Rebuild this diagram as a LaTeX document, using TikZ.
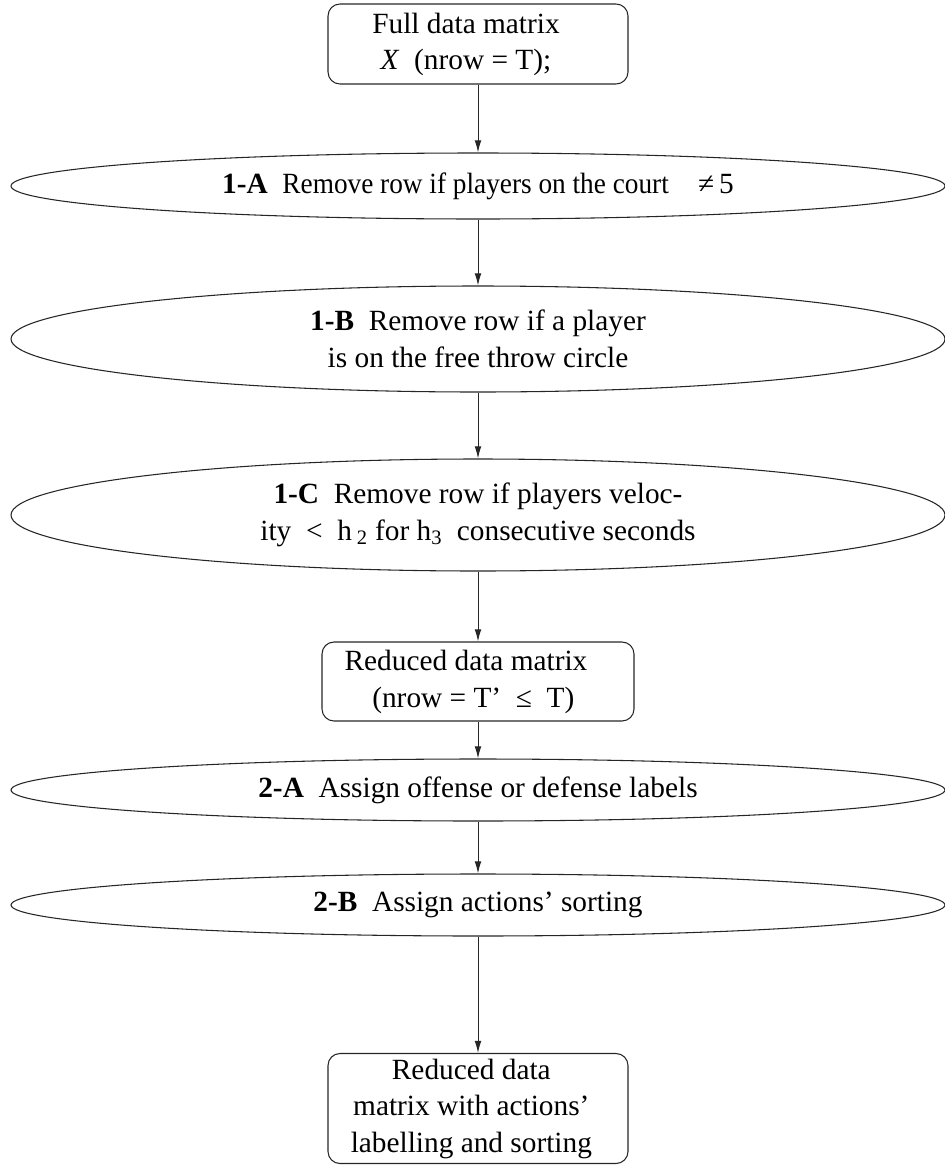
\documentclass[tikz,border=0pt]{standalone}
\usepackage{fontspec}
\setmainfont{Liberation Serif}
\usetikzlibrary{shapes.geometric,arrows.meta}
\tikzset{
  base/.style={draw=black!85, line width=0.8pt, inner sep=0pt,
    font=\fontsize{22}{27.5}\selectfont},
  procbox/.style={base, rectangle, rounded corners=9pt},
  filterell/.style={base, ellipse, minimum width=934*0.75pt, align=center},
  flow/.style={-{Latex[length=9pt,width=5pt]}, line width=0.75pt, draw=black!85},
}
\begin{document}
\begin{tikzpicture}[x=0.75pt,y=-0.75pt]
\useasboundingbox (0,0) rectangle (945,1167);

% input matrix
\node[procbox, minimum width=300*0.75pt, minimum height=80*0.75pt] (full) at (478,44)
  {\begin{tabular}{@{}c@{\hspace{18pt}}}Full data matrix\\ \textit{X}\ \ (nrow = T);\end{tabular}};

% step 1 filters
\node[filterell, minimum height=66*0.75pt] (f1a) at (478,186)
  {\textbf{1-A}\hspace{11pt}\scalebox{0.93}[1]{Remove row if players on the court}\hspace{22pt}≠\,5};
\node[filterell, minimum height=106*0.75pt] (f1b) at (478,339)
  {\textbf{1-B}\ \ Remove row if a player\\is on the free throw circle};
\node[filterell, minimum height=112*0.75pt] (f1c) at (478,515)
  {\textbf{1-C}\ \ Remove row if players veloc-\\ity\ \ <\ \ h\,\textsubscript{2}\ for h\textsubscript{3}\ \ consecutive seconds};

% reduced matrix
\node[procbox, minimum width=312*0.75pt, minimum height=79*0.75pt] (red) at (478,681.5)
  {\begin{tabular}{@{}c@{\hspace{18pt}}}Reduced data matrix\\ \ \ (nrow = T’\ \ ≤\ \ T)\end{tabular}};

% step 2 labelling
\node[filterell, minimum height=62*0.75pt] (f2a) at (478,790)
  {\textbf{2-A}\ \ Assign offense or defense labels};
\node[filterell, minimum height=62*0.75pt] (f2b) at (478,905)
  {\textbf{2-B}\ \ Assign actions’ sorting};

% output matrix
\node[procbox, minimum width=300*0.75pt, minimum height=107*0.75pt] (out) at (478,1108.5)
  {\begin{tabular}{@{}c@{\hspace{10pt}}}Reduced data\\matrix with actions’\\labelling and sorting\end{tabular}};

\draw[flow] (full.south) -- (f1a.north);
\draw[flow] (f1a.south) -- (f1b.north);
\draw[flow] (f1b.south) -- (f1c.north);
\draw[flow] (f1c.south) -- (red.north);
\draw[flow] (red.south) -- (f2a.north);
\draw[flow] (f2a.south) -- (f2b.north);
\draw[flow] (f2b.south) -- (out.north);
\end{tikzpicture}
\end{document}
